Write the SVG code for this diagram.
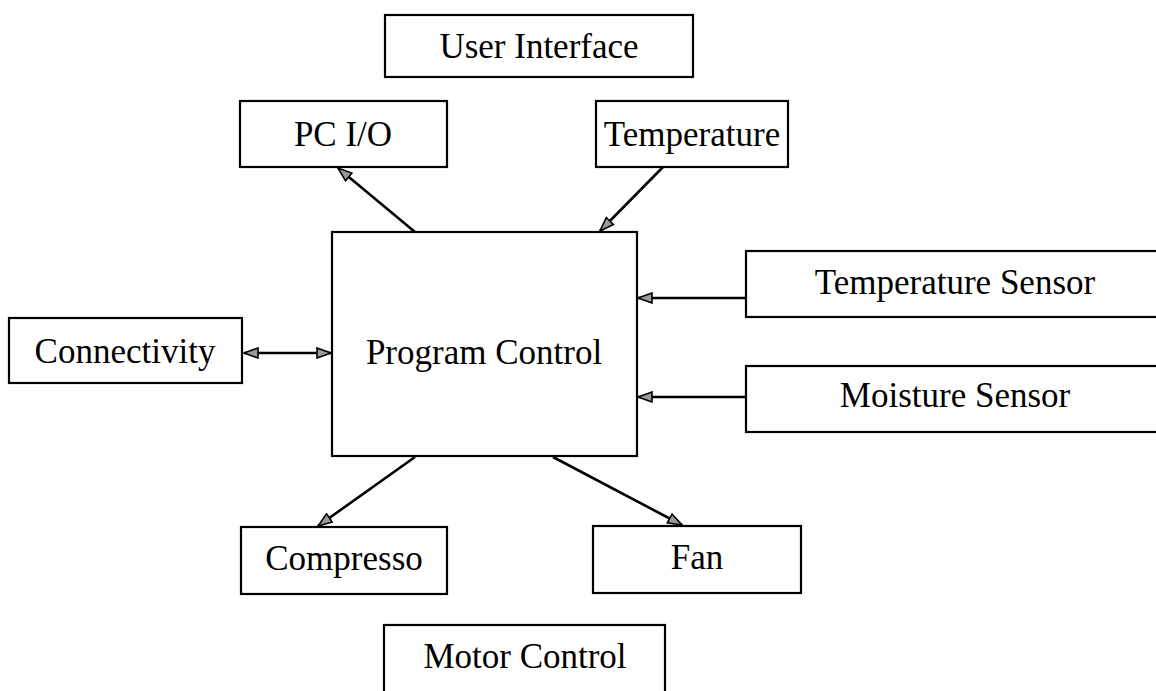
<svg xmlns="http://www.w3.org/2000/svg" width="1156" height="691" viewBox="0 0 1156 691">
<style>
.box{fill:#fff;stroke:#000;stroke-width:2.2}
.lbl{font-family:"Liberation Serif","Times New Roman",serif;font-size:35px;fill:#000;text-anchor:middle}
.con{stroke:#000;stroke-width:2.6;fill:none;marker-end:url(#ah)}
</style>
<defs>
<marker id="ah" markerUnits="userSpaceOnUse" markerWidth="16" markerHeight="12" viewBox="0 0 16 12" refX="15" refY="6" orient="auto-start-reverse">
<path d="M1,1 L15,6 L1,11 z" fill="#9a9a9a" stroke="#000" stroke-width="1.6"/>
</marker>
</defs>
<rect width="1156" height="691" fill="#fff"/>
<g id="connectors">
<line class="con" x1="415" y1="232" x2="338" y2="168"/>
<line class="con" x1="663" y1="167" x2="600" y2="231"/>
<line class="con" x1="244" y1="353" x2="331" y2="353" style="marker-start:url(#ah)"/>
<line class="con" x1="746" y1="298" x2="638" y2="298"/>
<line class="con" x1="746" y1="397" x2="638" y2="397"/>
<line class="con" x1="415" y1="457" x2="318" y2="526"/>
<line class="con" x1="553" y1="457" x2="682" y2="525"/>
</g>
<g id="user-interface"><rect class="box" x="385" y="15" width="308" height="62"/><text class="lbl" x="539" y="58">User Interface</text></g>
<g id="pc-io"><rect class="box" x="240" y="101" width="207" height="66"/><text class="lbl" x="343" y="146">PC I/O</text></g>
<g id="temperature"><rect class="box" x="596" y="101" width="192" height="66"/><text class="lbl" x="692" y="146">Temperature</text></g>
<g id="program-control"><rect class="box" x="332" y="232" width="305" height="224"/><text class="lbl" x="484" y="364">Program Control</text></g>
<g id="connectivity"><rect class="box" x="9" y="318" width="233" height="65"/><text class="lbl" x="125" y="363">Connectivity</text></g>
<g id="temperature-sensor"><rect class="box" x="746" y="251" width="430" height="66"/><text class="lbl" x="955" y="294">Temperature Sensor</text></g>
<g id="moisture-sensor"><rect class="box" x="746" y="366" width="430" height="66"/><text class="lbl" x="955" y="407">Moisture Sensor</text></g>
<g id="compresso"><rect class="box" x="241" y="527" width="206" height="67"/><text class="lbl" x="344" y="570">Compresso</text></g>
<g id="fan"><rect class="box" x="593" y="526" width="208" height="67"/><text class="lbl" x="697" y="569">Fan</text></g>
<g id="motor-control"><rect class="box" x="384" y="625" width="281" height="80"/><text class="lbl" x="525" y="668">Motor Control</text></g>
</svg>
